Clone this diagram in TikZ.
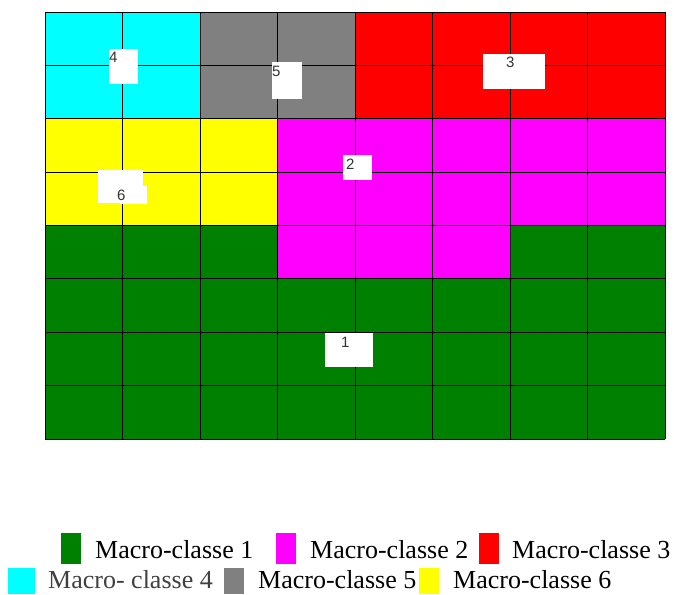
\documentclass[tikz,border=0pt]{standalone}
\usepackage{fontspec}
\setmainfont{Liberation Serif}
\newfontfamily\tagfont{Liberation Sans}
\usetikzlibrary{positioning}
\definecolor{mgreen}{HTML}{008000}
\definecolor{mmagenta}{HTML}{FF00FF}
\definecolor{mred}{HTML}{FF0000}
\definecolor{mcyan}{HTML}{00FFFF}
\definecolor{mgray}{HTML}{808080}
\definecolor{myellow}{HTML}{FFFF00}
\definecolor{legendgray}{HTML}{404040}

\begin{document}
\begin{tikzpicture}[x=1pt, y=-1pt,
  gridline/.style={draw=black, line width=0.8pt},
  tagbox/.style={fill=white, inner sep=0pt, anchor=north west},
  digit/.style={font=\tagfont\fontsize{15}{15}\selectfont, text=black!80, inner sep=0pt, anchor=north west},
  key/.style={minimum width=20pt, minimum height=31pt, inner sep=0pt, anchor=north west},
  entry/.style={font=\fontsize{26}{30}\selectfont, inner sep=0pt, anchor=base west}]
  \useasboundingbox (0,0) rectangle (674,594);

  % macro-class regions
  \fill[mgreen] (45,225.5) rectangle (665,439);
  \fill[mcyan] (45,12) rectangle (200,118.75);
  \fill[mgray] (200,12) rectangle (355,118.75);
  \fill[mred] (355,12) rectangle (665,118.75);
  \fill[myellow] (45,118.75) rectangle (277.5,225.5);
  \fill[mmagenta] (277.5,118.75) rectangle (665,225.5);
  \fill[mmagenta] (277.5,225.5) rectangle (510,278.875);

  % cells
  \foreach \i in {0,...,8} {
    \draw[gridline] ({45+\i*77.5},12) -- ({45+\i*77.5},439);
    \draw[gridline] (45,{12+\i*53.375}) -- (665,{12+\i*53.375});
  }

  % class tags
  \node[tagbox, minimum width=29pt, minimum height=35pt] (b4) at (109,49) {};
  \node[digit] (d4) at (109,52) {4};
  \node[tagbox, minimum width=30pt, minimum height=37pt] (b5) at (272,62) {};
  \node[digit] (d5) at (272,66) {5};
  \node[tagbox, minimum width=62pt, minimum height=35pt] (b3) at (483,54) {};
  \node[digit] (d3) at (506,57) {3};
  \node[tagbox, minimum width=29pt, minimum height=25pt] (b2) at (343,155) {};
  \node[digit] (d2) at (346,159) {2};
  \node[tagbox, minimum width=45pt, minimum height=33pt] (b6) at (98,170) {};
  \node[tagbox, minimum width=27pt, minimum height=18pt] (b6x) at (120,186) {};
  \node[digit] (d6) at (117,190) {6};
  \node[tagbox, minimum width=48pt, minimum height=34pt] (b1) at (325,333) {};
  \node[digit] (d1) at (341,337) {1};

  % legend
  \node[key, fill=mgreen] (k1) at (61,533) {};
  \node[entry] (t1) at (95,558) {Macro-classe 1};
  \node[key, fill=mmagenta] (k2) at (276,533) {};
  \node[entry] (t2) at (310,558) {Macro-classe 2};
  \node[key, fill=mred] (k3) at (479,533) {};
  \node[entry] (t3) at (512,558) {Macro-classe 3};
  \node[key, fill=mcyan, minimum width=27pt, minimum height=26pt] (k4) at (8,568) {};
  \node[entry, text=legendgray] (t4) at (48,588) {Macro- classe 4};
  \node[key, fill=mgray, minimum height=26pt] (k5) at (224,568) {};
  \node[entry] (t5) at (258,588) {Macro-classe 5};
  \node[key, fill=myellow, minimum height=26pt] (k6) at (419,568) {};
  \node[entry] (t6) at (453,588) {Macro-classe 6};
\end{tikzpicture}
\end{document}
